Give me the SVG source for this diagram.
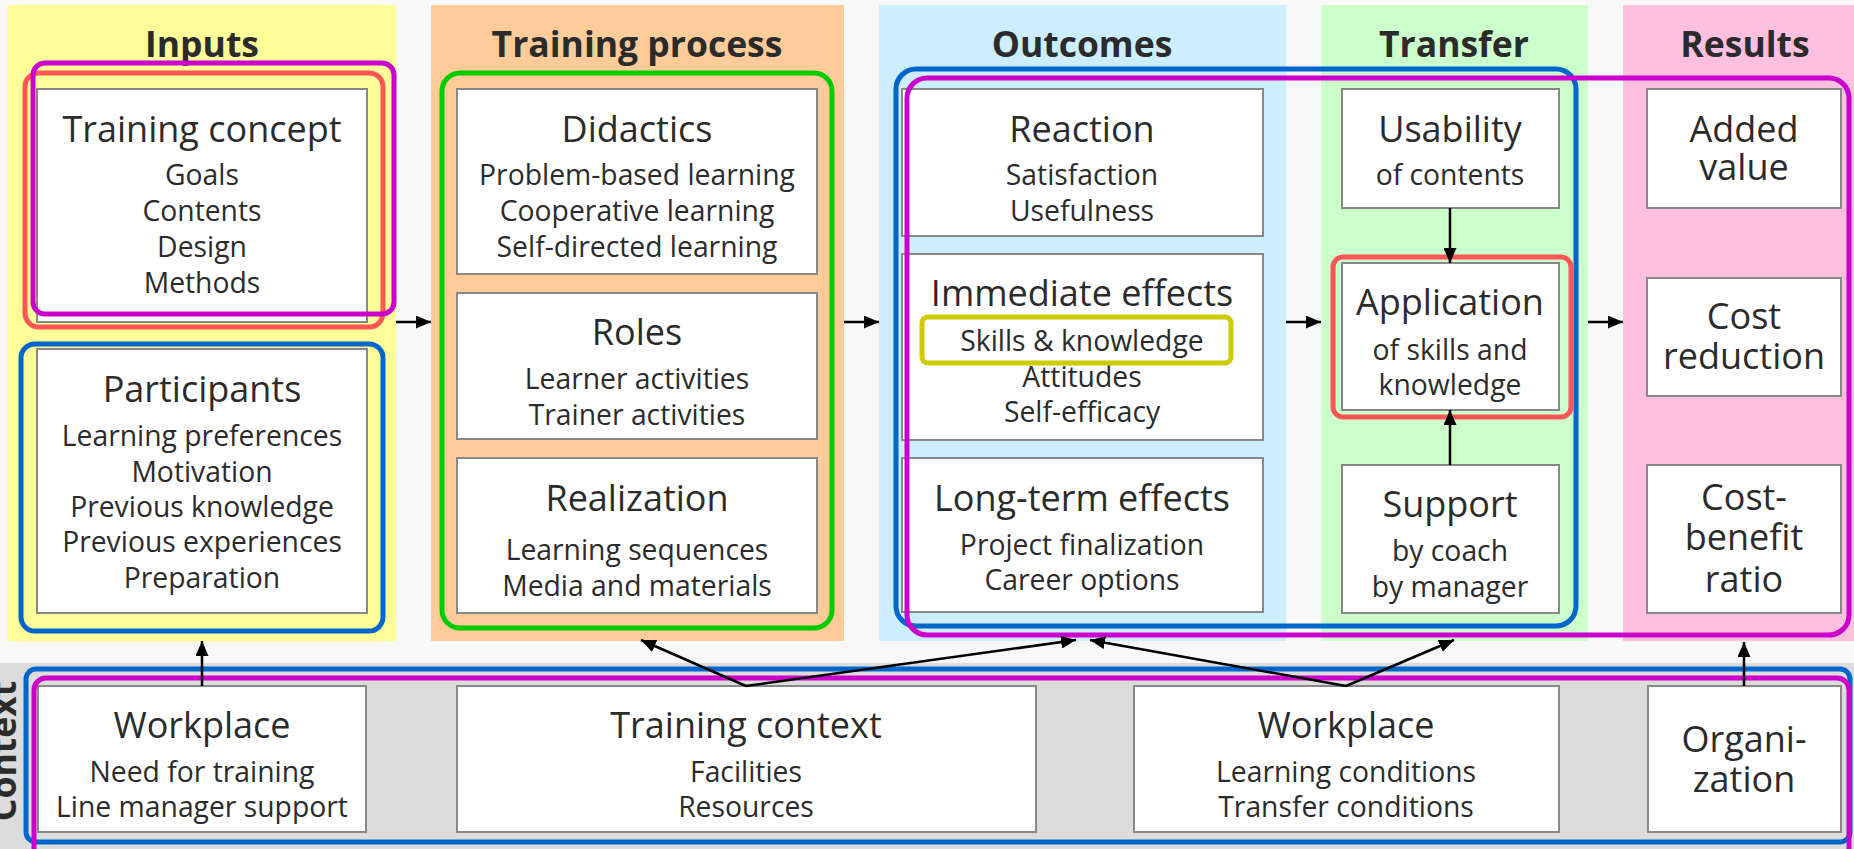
<svg xmlns="http://www.w3.org/2000/svg" width="1854" height="849" viewBox="0 0 1854 849">
<defs>
<marker id="ah" viewBox="0 0 15 13" refX="15" refY="6.5" markerWidth="15" markerHeight="13" markerUnits="userSpaceOnUse" orient="auto"><path d="M0,0 L15,6.5 L0,13 z" fill="#000"/></marker>
</defs>
<style>
.box{fill:#fff;stroke:#888;stroke-width:2}
.h{font-family:"Open Sans","Noto Sans",sans-serif;font-weight:bold;font-size:35.5px;fill:#2b2b2b;text-anchor:middle}
.t{font-family:"Open Sans","Noto Sans",sans-serif;font-size:36px;fill:#2b2b2b;text-anchor:middle}
.s{font-family:"Open Sans","Noto Sans",sans-serif;font-size:28.3px;fill:#2b2b2b;text-anchor:middle}
.fr{fill:none;stroke-width:5}
.mag{stroke:#cc00cc}
.red{stroke:#ff5555}
.blu{stroke:#0066cc}
.grn{stroke:#00cc00}
.olv{stroke:#cccc00}
.c{stroke:#000;stroke-width:2.5;fill:none;marker-end:url(#ah)}
</style>
<rect x="0" y="0" width="1854" height="849" fill="#f8f8f8"/>

<g id="columns">
<rect x="7" y="5" width="389" height="636" fill="#ffff99"/>
<rect x="431" y="5" width="413" height="636" fill="#ffcc99"/>
<rect x="879" y="5" width="407" height="636" fill="#cceeff"/>
<rect x="1321" y="5" width="267" height="636" fill="#ccffcc"/>
<rect x="1623" y="5" width="240" height="636" fill="#ffbfdf"/>
<rect x="0" y="663" width="1854" height="186" fill="#dcdcdc"/>
<text class="h" x="202" y="57">Inputs</text>
<text class="h" x="637" y="57">Training process</text>
<text class="h" x="1082" y="57">Outcomes</text>
<text class="h" x="1454" y="57">Transfer</text>
<text class="h" x="1745" y="57">Results</text>
<text class="h" transform="translate(16,751) rotate(-90)" x="0" y="0">Context</text>
</g>

<g id="training-concept">
<rect class="box" x="37" y="89" width="330" height="233"/>
<text class="t" x="202" y="142">Training concept</text>
<text class="s" x="202" y="185">Goals</text>
<text class="s" x="202" y="221">Contents</text>
<text class="s" x="202" y="257">Design</text>
<text class="s" x="202" y="293">Methods</text>
</g>
<g id="participants">
<rect class="box" x="37" y="349" width="330" height="264"/>
<text class="t" x="202" y="402">Participants</text>
<text class="s" x="202" y="446">Learning preferences</text>
<text class="s" x="202" y="482">Motivation</text>
<text class="s" x="202" y="517">Previous knowledge</text>
<text class="s" x="202" y="552">Previous experiences</text>
<text class="s" x="202" y="588">Preparation</text>
</g>

<g id="didactics">
<rect class="box" x="457" y="89" width="360" height="185"/>
<text class="t" x="637" y="142">Didactics</text>
<text class="s" x="637" y="185">Problem-based learning</text>
<text class="s" x="637" y="221">Cooperative learning</text>
<text class="s" x="637" y="257">Self-directed learning</text>
</g>
<g id="roles">
<rect class="box" x="457" y="293" width="360" height="146"/>
<text class="t" x="637" y="345">Roles</text>
<text class="s" x="637" y="389">Learner activities</text>
<text class="s" x="637" y="425">Trainer activities</text>
</g>
<g id="realization">
<rect class="box" x="457" y="458" width="360" height="155"/>
<text class="t" x="637" y="511">Realization</text>
<text class="s" x="637" y="560">Learning sequences</text>
<text class="s" x="637" y="596">Media and materials</text>
</g>

<g id="reaction">
<rect class="box" x="902" y="89" width="361" height="147"/>
<text class="t" x="1082" y="142">Reaction</text>
<text class="s" x="1082" y="185">Satisfaction</text>
<text class="s" x="1082" y="221">Usefulness</text>
</g>
<g id="immediate-effects">
<rect class="box" x="902" y="254" width="361" height="186"/>
<text class="t" x="1082" y="306">Immediate effects</text>
<text class="s" x="1082" y="351">Skills &amp; knowledge</text>
<text class="s" x="1082" y="387">Attitudes</text>
<text class="s" x="1082" y="422">Self-efficacy</text>
</g>
<g id="long-term-effects">
<rect class="box" x="902" y="458" width="361" height="154"/>
<text class="t" x="1082" y="511">Long-term effects</text>
<text class="s" x="1082" y="555">Project finalization</text>
<text class="s" x="1082" y="590">Career options</text>
</g>

<g id="usability">
<rect class="box" x="1342" y="89" width="217" height="119"/>
<text class="t" x="1450" y="142">Usability</text>
<text class="s" x="1450" y="185">of contents</text>
</g>
<g id="application">
<rect class="box" x="1342" y="263" width="217" height="147"/>
<text class="t" x="1450" y="315">Application</text>
<text class="s" x="1450" y="360">of skills and</text>
<text class="s" x="1450" y="395">knowledge</text>
</g>
<g id="support">
<rect class="box" x="1342" y="465" width="217" height="148"/>
<text class="t" x="1450" y="517">Support</text>
<text class="s" x="1450" y="561">by coach</text>
<text class="s" x="1450" y="597">by manager</text>
</g>

<g id="added-value">
<rect class="box" x="1647" y="89" width="194" height="119"/>
<text class="t" x="1744" y="142">Added</text>
<text class="t" x="1744" y="180">value</text>
</g>
<g id="cost-reduction">
<rect class="box" x="1647" y="278" width="194" height="118"/>
<text class="t" x="1744" y="329">Cost</text>
<text class="t" x="1744" y="369">reduction</text>
</g>
<g id="cost-benefit">
<rect class="box" x="1647" y="465" width="194" height="148"/>
<text class="t" x="1744" y="510">Cost-</text>
<text class="t" x="1744" y="550">benefit</text>
<text class="t" x="1744" y="592">ratio</text>
</g>

<g id="workplace-needs">
<rect class="box" x="38" y="686" width="328" height="146"/>
<text class="t" x="202" y="738">Workplace</text>
<text class="s" x="202" y="782">Need for training</text>
<text class="s" x="202" y="817">Line manager support</text>
</g>
<g id="training-context">
<rect class="box" x="457" y="686" width="579" height="146"/>
<text class="t" x="746" y="738">Training context</text>
<text class="s" x="746" y="782">Facilities</text>
<text class="s" x="746" y="817">Resources</text>
</g>
<g id="workplace-conditions">
<rect class="box" x="1134" y="686" width="425" height="146"/>
<text class="t" x="1346" y="738">Workplace</text>
<text class="s" x="1346" y="782">Learning conditions</text>
<text class="s" x="1346" y="817">Transfer conditions</text>
</g>
<g id="organization">
<rect class="box" x="1648" y="686" width="193" height="146"/>
<text class="t" x="1744" y="752">Organi-</text>
<text class="t" x="1744" y="792">zation</text>
</g>

<g id="frames">
<rect class="fr red" x="25" y="73" width="358" height="254" rx="14"/>
<rect class="fr mag" x="33" y="63" width="361" height="251" rx="12"/>
<rect class="fr blu" x="21" y="344" width="362" height="287" rx="14"/>
<rect class="fr grn" x="442" y="73" width="390" height="555" rx="18"/>
<rect class="fr blu" x="896" y="69" width="680" height="557" rx="20"/>
<rect class="fr mag" x="907" y="78" width="942" height="557" rx="20"/>
<rect class="fr olv" x="922" y="317" width="309" height="46" rx="6"/>
<rect class="fr red" x="1333" y="257" width="238" height="160" rx="10"/>
<rect class="fr blu" x="26" y="669" width="1824" height="173" rx="10"/>
<rect class="fr mag" x="34" y="678" width="1815" height="182" rx="12"/>
</g>

<g id="connectors">
<line class="c" x1="396" y1="322" x2="431" y2="322"/>
<line class="c" x1="844" y1="322" x2="879" y2="322"/>
<line class="c" x1="1286" y1="322" x2="1321" y2="322"/>
<line class="c" x1="1588" y1="322" x2="1623" y2="322"/>
<line class="c" x1="1450" y1="208" x2="1450" y2="263"/>
<line class="c" x1="1450" y1="465" x2="1450" y2="410"/>
<line class="c" x1="202" y1="686" x2="202" y2="641"/>
<line class="c" x1="746" y1="686" x2="641" y2="640"/>
<line class="c" x1="746" y1="686" x2="1076" y2="640"/>
<line class="c" x1="1346" y1="686" x2="1090" y2="640"/>
<line class="c" x1="1346" y1="686" x2="1454" y2="640"/>
<line class="c" x1="1744" y1="686" x2="1744" y2="642"/>
</g>
</svg>
